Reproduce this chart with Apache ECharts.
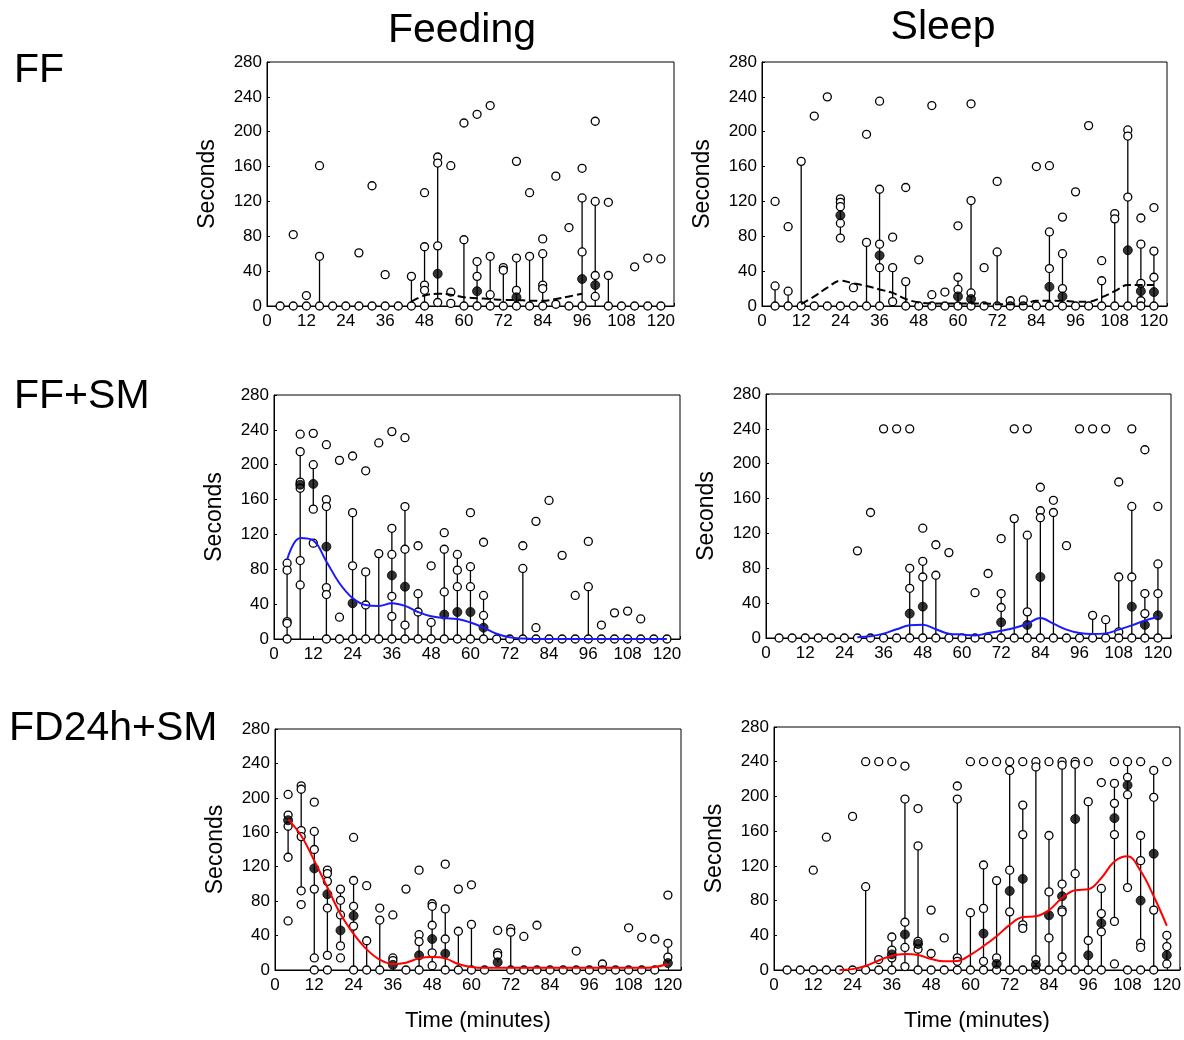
<!DOCTYPE html>
<html>
<head>
<meta charset="utf-8">
<script src="https://cdn.jsdelivr.net/npm/echarts@6/dist/echarts.min.js"></script>
<style>
  html, body { margin: 0; padding: 0; background: #fff; }
  #main { width: 1184px; height: 1040px; }
</style>
</head>
<body>
<div id="main"></div>
<script>
// sampling times (minutes)
var times = [4, 8, 12, 16, 20, 24, 28, 32, 36, 40, 44, 48, 52, 56, 60,
             64, 68, 72, 76, 80, 84, 88, 92, 96, 100, 104, 108, 112, 116, 120];
var yTicks = [0, 40, 80, 120, 160, 200, 240, 280];
var xTicks = [0, 12, 24, 36, 48, 60, 72, 84, 96, 108, 120];

// ---- FF / Feeding ----
var ffFeedOpen = [[0], [82, 0], [12, 0], [161, 57, 0], [0], [0], [61, 0], [138, 0], [36, 0], [0],
  [34, 0], [130, 68, 24, 18, 0], [171, 164, 69, 4], [161, 16, 3], [210, 76, 0],
  [220, 51, 34, 0], [230, 57, 13, 0], [44, 41, 0], [166, 55, 18, 0], [130, 57, 0],
  [77, 60, 24, 20, 0], [149, 2], [90, 0], [158, 124, 62, 0], [212, 120, 35, 11],
  [119, 35, 0], [0], [45, 0], [55, 0], [54, 0]];
var ffFeedRange = [[16, 0, 57], [44, 0, 34], [48, 0, 68], [52, 4, 164], [60, 0, 76], [64, 0, 51],
  [68, 0, 57], [72, 0, 44], [76, 0, 55], [80, 0, 57], [84, 0, 60], [96, 0, 124], [100, 0, 120], [104, 0, 35]];
var ffFeedMed = [[52, 37], [64, 17], [76, 10], [96, 31], [100, 24]];
var ffFeedFit = [null, null, null, null, null, null, null, null, null, null,
  5, 12, 14, 13, 10, 9, 8, 7, 7, 6, 6, 8, 11, 14, null, null, null, null, null, null];

// ---- FF / Sleep ----
var ffSleepOpen = [[120, 23, 0], [91, 17, 0], [166, 0], [218, 0], [240, 0],
  [123, 119, 114, 95, 78, 0], [21, 0], [197, 73, 0], [235, 134, 71, 44, 0], [79, 44, 5],
  [136, 28, 0], [53, 0], [230, 13, 0], [16, 0], [92, 33, 19, 0],
  [232, 121, 15, 0], [44, 0], [143, 62, 0], [6, 0], [7, 0],
  [160, 0], [161, 85, 43, 0], [102, 60, 20, 0], [131, 0], [207, 0],
  [52, 29, 0], [106, 100, 0], [202, 195, 125, 0], [101, 71, 26, 6, 0], [113, 63, 33, 0]];
var ffSleepRange = [[4, 0, 23], [8, 0, 17], [12, 0, 166], [24, 78, 123], [32, 0, 73], [36, 0, 134],
  [40, 0, 44], [44, 0, 28], [60, 0, 33], [64, 0, 121], [72, 0, 62], [88, 0, 85], [92, 0, 60],
  [104, 0, 29], [108, 0, 100], [112, 0, 195], [116, 0, 71], [120, 0, 63]];
var ffSleepMed = [[24, 104], [36, 58], [60, 11], [64, 8], [88, 22], [92, 11], [112, 64], [116, 17], [120, 16]];
var ffSleepFit = [null, null, 2, 11, 21, 29, 26, 23, 19, 15, 8, 4, 3, 3, 3,
  3, 3, 2, 2, 2, 6, 6, 6, 5, 5, 10, 17, 24, 24, 24];

// ---- FF+SM / Feeding ----
var smFeedOpen = [[87, 79, 20, 18, 0], [235, 215, 180, 173, 90, 62], [236, 200, 149, 110],
  [223, 160, 152, 59, 51, 0], [205, 25, 0], [210, 145, 84, 0], [193, 77, 39, 0], [225, 98, 0],
  [238, 127, 97, 49, 26, 0], [231, 152, 103, 16, 0], [107, 52, 31, 0], [84, 19, 0],
  [122, 103, 54, 0], [97, 79, 60, 0], [145, 83, 60, 0], [111, 50, 27, 0], [0], [0],
  [107, 81, 0], [135, 13, 0], [159, 0], [96, 0], [50, 0], [112, 60, 0], [16, 0],
  [30, 0], [32, 0], [23, 0], [0], [0]];
var smFeedRange = [[4, 0, 87], [8, 0, 215], [12, 149, 200], [16, 0, 152], [24, 0, 145], [28, 0, 77],
  [32, 0, 98], [36, 0, 127], [40, 0, 152], [44, 0, 52], [48, 0, 19], [52, 0, 103], [56, 0, 97],
  [60, 0, 83], [64, 0, 50], [76, 0, 81], [96, 0, 60]];
var smFeedMed = [[8, 177], [12, 178], [16, 106], [24, 41], [36, 73], [40, 60], [52, 28], [56, 31], [60, 31], [64, 13]];
var smFeedFit = [91, 116, 113, 89, 64, 47, 39, 38, 41, 38, 31, 26, 24, 23, 19,
  13, 6, 2, 0.5, 0, 0, 0, 0, 0, 0, 0, 0, 0, 0, 0];

// ---- FF+SM / Sleep ----
var smSleepOpen = [[0], [0], [0], [0], [0], [0], [100, 0], [144, 0], [240, 0], [240, 0],
  [240, 80, 57, 0], [126, 88, 70, 0], [107, 72, 0], [98, 0], [0],
  [52, 0], [74, 0], [114, 51, 35, 0], [240, 137, 0], [240, 118, 30, 0],
  [173, 146, 138, 0], [158, 144, 0], [106, 0], [240, 0], [240, 26, 0],
  [240, 21, 0], [179, 70, 7, 0], [240, 151, 70, 0], [216, 51, 28, 0], [151, 85, 51, 0]];
var smSleepRange = [[44, 0, 80], [48, 0, 88], [52, 0, 72], [72, 0, 51], [76, 0, 137], [80, 0, 118],
  [84, 0, 146], [88, 0, 144], [100, 0, 26], [104, 0, 21], [108, 0, 70], [112, 0, 151], [116, 0, 51], [120, 0, 85]];
var smSleepMed = [[44, 28], [48, 36], [72, 18], [80, 15], [84, 70], [112, 36], [116, 15], [120, 26]];
var smSleepFit = [null, null, null, null, null, null, 1, 2, 5, 10, 14.5, 15.3, 10, 5, 4,
  3, 5.7, 8.4, 11.5, 16.4, 23, 16.4, 9.6, 5.7, 4.6, 5.3, 9.6, 14.5, 20, 24];

// ---- FD24h+SM / Feeding ----
var fdFeedOpen = [[204, 180, 167, 131, 57], [214, 210, 162, 155, 92, 76], [195, 161, 140, 94, 14, 0],
  [116, 112, 103, 72, 17, 0], [94, 81, 64, 28, 14], [154, 104, 74, 51, 0], [98, 34, 0],
  [72, 58, 0], [64, 14, 11], [94, 0], [116, 41, 33, 0], [77, 74, 52, 20, 5],
  [123, 71, 36, 0], [94, 45, 0], [99, 53, 0], [0], [46, 20, 17], [48, 44, 0], [39, 0],
  [52, 0], [0], [0], [22, 0], [0], [7, 0], [0], [49, 0], [38, 0], [36, 0], [87, 31, 15]];
var fdFeedRange = [[4, 131, 174], [8, 92, 214], [12, 14, 161], [16, 17, 116], [20, 28, 94], [24, 0, 104],
  [28, 0, 34], [32, 0, 58], [44, 0, 41], [48, 0, 77], [52, 0, 71], [56, 0, 45], [60, 0, 53],
  [68, 9, 20], [72, 0, 48], [120, 8, 31]];
var fdFeedMed = [[4, 174], [12, 118], [16, 88], [20, 46], [24, 63], [36, 6], [44, 17], [48, 36], [52, 19], [68, 9], [120, 8]];
var fdFeedFit = [175, 156, 127, 96, 65, 42, 24, 12, 7, 8.5, 13.5, 15, 13.5, 7, 3.5,
  2.5, 2.5, 2.5, 2.5, 2.5, 2.5, 2.5, 2.5, 2.5, 2.5, 2.5, 2.5, 2.5, 3.5, 7];

// ---- FD24h+SM / Sleep ----
var fdSleepOpen = [[0], [0], [115, 0], [153, 0], [0], [177, 0], [240, 96, 0], [240, 12, 0],
  [240, 38, 23, 14, 0], [235, 197, 55, 26, 4], [186, 143, 33, 24, 0], [69, 19, 0], [37, 0],
  [212, 197, 14, 10, 0], [240, 66, 0], [240, 121, 71, 10, 0], [240, 103, 14, 0],
  [240, 230, 115, 67, 0], [240, 190, 156, 52, 48, 0], [240, 234, 12, 0], [240, 155, 90, 37, 0],
  [240, 236, 99, 69, 67, 15, 0], [240, 237, 111, 0], [240, 194, 34, 0], [216, 94, 65, 44, 0],
  [240, 215, 192, 156, 56, 7], [240, 222, 202, 95, 0], [240, 155, 126, 31, 26, 0],
  [230, 199, 69, 0], [240, 40, 27, 7]];
var fdSleepRange = [[28, 0, 96], [36, 0, 38], [40, 0, 197], [44, 0, 143], [56, 0, 197], [60, 0, 66],
  [64, 0, 121], [68, 0, 103], [72, 0, 230], [76, 48, 190], [80, 0, 234], [84, 0, 155], [88, 0, 236],
  [92, 0, 237], [96, 0, 194], [100, 0, 94], [104, 56, 215], [108, 95, 240], [112, 26, 155],
  [116, 0, 230], [120, 7, 40]];
var fdSleepMed = [[36, 18], [40, 41], [44, 30], [64, 42], [68, 7], [72, 91], [76, 105], [80, 6],
  [84, 63], [88, 85], [92, 174], [96, 17], [100, 54], [104, 175], [108, 213], [112, 80], [116, 134], [120, 17]];
var fdSleepFit = [null, null, null, null, 0, 1, 4.6, 11, 16.5, 18.4, 17.3, 12.7, 10, 10.4, 17.5,
  27.6, 39, 52, 61, 62, 69, 83, 92, 93, 106, 125, 131, 114, 85, 51];

var FONT = 'Liberation Sans, Arial, Helvetica, sans-serif';

var panels = [
  { open: ffFeedOpen, range: ffFeedRange, med: ffFeedMed, fit: ffFeedFit, color: '#000', dash: 'dashed',
    grid: { left: 267, top: 62, width: 407, height: 244 }, xName: '' },
  { open: ffSleepOpen, range: ffSleepRange, med: ffSleepMed, fit: ffSleepFit, color: '#000', dash: 'dashed',
    grid: { left: 762, top: 62, width: 405, height: 244 }, xName: '' },
  { open: smFeedOpen, range: smFeedRange, med: smFeedMed, fit: smFeedFit, color: '#1a1aff', dash: 'solid',
    grid: { left: 274, top: 395, width: 406, height: 244 }, xName: '' },
  { open: smSleepOpen, range: smSleepRange, med: smSleepMed, fit: smSleepFit, color: '#1a1aff', dash: 'solid',
    grid: { left: 766, top: 394, width: 405, height: 244 }, xName: '' },
  { open: fdFeedOpen, range: fdFeedRange, med: fdFeedMed, fit: fdFeedFit, color: '#ff0000', dash: 'solid',
    grid: { left: 275, top: 729, width: 406, height: 241 }, xName: 'Time (minutes)' },
  { open: fdSleepOpen, range: fdSleepRange, med: fdSleepMed, fit: fdSleepFit, color: '#ff0000', dash: 'solid',
    grid: { left: 774, top: 727, width: 406, height: 243 }, xName: 'Time (minutes)' }
];

var grids = [], xAxes = [], yAxes = [], series = [];

panels.forEach(function (p, i) {
  grids.push({
    left: p.grid.left, top: p.grid.top, width: p.grid.width, height: p.grid.height,
    show: true, borderColor: '#000', borderWidth: 1, backgroundColor: 'transparent'
  });
  xAxes.push({
    gridIndex: i, type: 'value', min: 0, max: 124, interval: 12,
    name: p.xName, nameLocation: 'middle', nameGap: 40,
    nameTextStyle: { fontFamily: FONT, fontSize: 22, color: '#000' },
    axisLine: { lineStyle: { color: '#000', width: 1 } },
    axisTick: { inside: true, length: 3, lineStyle: { color: '#000' } },
    splitLine: { show: false },
    axisLabel: {
      fontFamily: FONT, fontSize: 17, color: '#000', margin: 7,
      formatter: function (v) { return xTicks.indexOf(v) >= 0 ? String(v) : ''; }
    }
  });
  yAxes.push({
    gridIndex: i, type: 'value', min: 0, max: 280, interval: 40,
    name: 'Seconds', nameLocation: 'middle', nameGap: 48,
    nameTextStyle: { fontFamily: FONT, fontSize: 23, color: '#000' },
    axisLine: { lineStyle: { color: '#000', width: 1 } },
    axisTick: { inside: true, length: 3, lineStyle: { color: '#000' } },
    splitLine: { show: false },
    axisLabel: {
      fontFamily: FONT, fontSize: 17, color: '#000', margin: 5,
      formatter: function (v) { return yTicks.indexOf(v) >= 0 ? String(v) : ''; }
    }
  });

  // vertical range lines
  series.push({
    type: 'custom', xAxisIndex: i, yAxisIndex: i, z: 2,
    data: p.range,
    encode: { x: 0, y: [1, 2] },
    renderItem: function (params, api) {
      var a = api.coord([api.value(0), api.value(1)]);
      var b = api.coord([api.value(0), api.value(2)]);
      return {
        type: 'line',
        shape: { x1: a[0], y1: a[1], x2: b[0], y2: b[1] },
        style: { stroke: '#000', lineWidth: 1.3 }
      };
    }
  });

  // individual observations
  var pts = [];
  times.forEach(function (t, k) {
    p.open[k].forEach(function (v) { pts.push([t, v]); });
  });
  series.push({
    type: 'scatter', xAxisIndex: i, yAxisIndex: i, z: 3, clip: false,
    symbol: 'circle', symbolSize: 8, data: pts,
    itemStyle: { color: '#fff', borderColor: '#000', borderWidth: 1.3, opacity: 1 }
  });

  // medians
  series.push({
    type: 'scatter', xAxisIndex: i, yAxisIndex: i, z: 4, clip: false,
    symbol: 'circle', symbolSize: 9, data: p.med,
    itemStyle: { color: '#000', borderColor: '#000', borderWidth: 1 }
  });

  // smoothed trend
  series.push({
    type: 'line', xAxisIndex: i, yAxisIndex: i, z: 5,
    smooth: 0.4, showSymbol: false, symbol: 'none',
    data: times.map(function (t, k) { return [t, p.fit[k]]; }),
    lineStyle: { color: p.color, width: 2, type: p.dash }
  });
});

var chart = echarts.init(document.getElementById('main'), null, { renderer: 'canvas' });
chart.setOption({
  animation: false,
  backgroundColor: '#fff',
  grid: grids,
  xAxis: xAxes,
  yAxis: yAxes,
  series: series,
  graphic: [
    { type: 'text', x: 462, y: 31, style: { text: 'Feeding', font: '41px ' + FONT, fill: '#000', align: 'center', verticalAlign: 'middle' } },
    { type: 'text', x: 943, y: 28, style: { text: 'Sleep', font: '41px ' + FONT, fill: '#000', align: 'center', verticalAlign: 'middle' } },
    { type: 'text', x: 14, y: 71, style: { text: 'FF', font: '41px ' + FONT, fill: '#000', align: 'left', verticalAlign: 'middle' } },
    { type: 'text', x: 14, y: 397, style: { text: 'FF+SM', font: '41px ' + FONT, fill: '#000', align: 'left', verticalAlign: 'middle' } },
    { type: 'text', x: 9, y: 729, style: { text: 'FD24h+SM', font: '41px ' + FONT, fill: '#000', align: 'left', verticalAlign: 'middle' } }
  ]
});
</script>
</body>
</html>
